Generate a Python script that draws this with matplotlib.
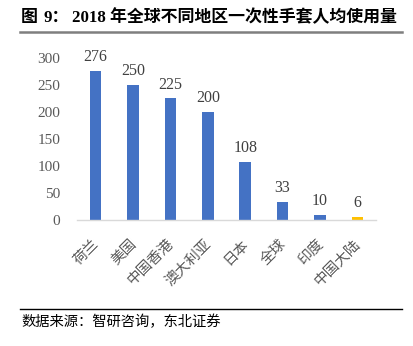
"""Per-capita disposable glove use by region, 2018 (bar chart)."""

import matplotlib
matplotlib.use("Agg")
import matplotlib.pyplot as plt
from matplotlib.lines import Line2D
from matplotlib.transforms import ScaledTranslation

plt.rcParams["font.family"] = ["Liberation Serif", "Noto Sans CJK SC"]

REGIONS = ["荷兰", "美国", "中国香港", "澳大利亚", "日本", "全球", "印度", "中国大陆"]
USAGE = [276, 250, 225, 200, 108, 33, 10, 6]
BAR_COLORS = ["#4472C4"] * 7 + ["#FFC000"]
Y_TICKS = [0, 50, 100, 150, 200, 250, 300]

TITLE_PARTS = ["图", "9：", "2018 年全球不同地区一次性手套人均使用量"]
SOURCE = "数据来源：智研咨询，东北证券"

W, H = 414, 346
fig = plt.figure(figsize=(W / 100, H / 100), dpi=100)
ax = fig.add_axes([77 / W, 1 - 220 / H, 299 / W, 162 / H])

x = range(len(REGIONS))
ax.bar(x, USAGE, width=0.31, color=BAR_COLORS, zorder=2)
for xi, v in zip(x, USAGE):
    ax.text(xi, v + 11, str(v), ha="center", va="bottom", fontsize=11.5, color="#404040")

ax.set_xlim(-0.5, len(REGIONS) - 0.5)
ax.set_ylim(0, 300)
ax.set_yticks(Y_TICKS)
ax.set_yticklabels([str(t) for t in Y_TICKS], fontsize=11, color="#595959")
ax.set_xticks(list(x))
ax.set_xticklabels(REGIONS, rotation=45, ha="right", rotation_mode="anchor",
                   fontsize=10.5, color="#595959")
ax.tick_params(length=0)
ax.tick_params(axis="y", pad=12)
ax.tick_params(axis="x", pad=11)
shift = ScaledTranslation(-3 / 100, -2 / 100, fig.dpi_scale_trans)
for lbl in ax.get_xticklabels():
    lbl.set_transform(lbl.get_transform() + shift)
for side in ["top", "right", "left"]:
    ax.spines[side].set_visible(False)
ax.spines["bottom"].set_color("#D9D9D9")
ax.spines["bottom"].set_linewidth(1.0)

# title pieces with grey rule beneath
for px, part in zip([21, 44, 72], TITLE_PARTS):
    fig.text(px / W, 1 - 18 / H, part, fontsize=12.2, fontweight="bold",
             va="center", ha="left", color="black")
fig.add_artist(Line2D([20 / W, 402 / W], [1 - 32 / H, 1 - 32 / H], color="#7F7F7F",
                      linewidth=1.8, transform=fig.transFigure))

# source note with black rule above
fig.add_artist(Line2D([20 / W, 402 / W], [1 - 309 / H, 1 - 309 / H], color="black",
                      linewidth=1.0, transform=fig.transFigure))
fig.text(21 / W, 1 - 322 / H, SOURCE, fontsize=10.3, va="center", ha="left", color="black")

fig.savefig("out.png", dpi=100)
